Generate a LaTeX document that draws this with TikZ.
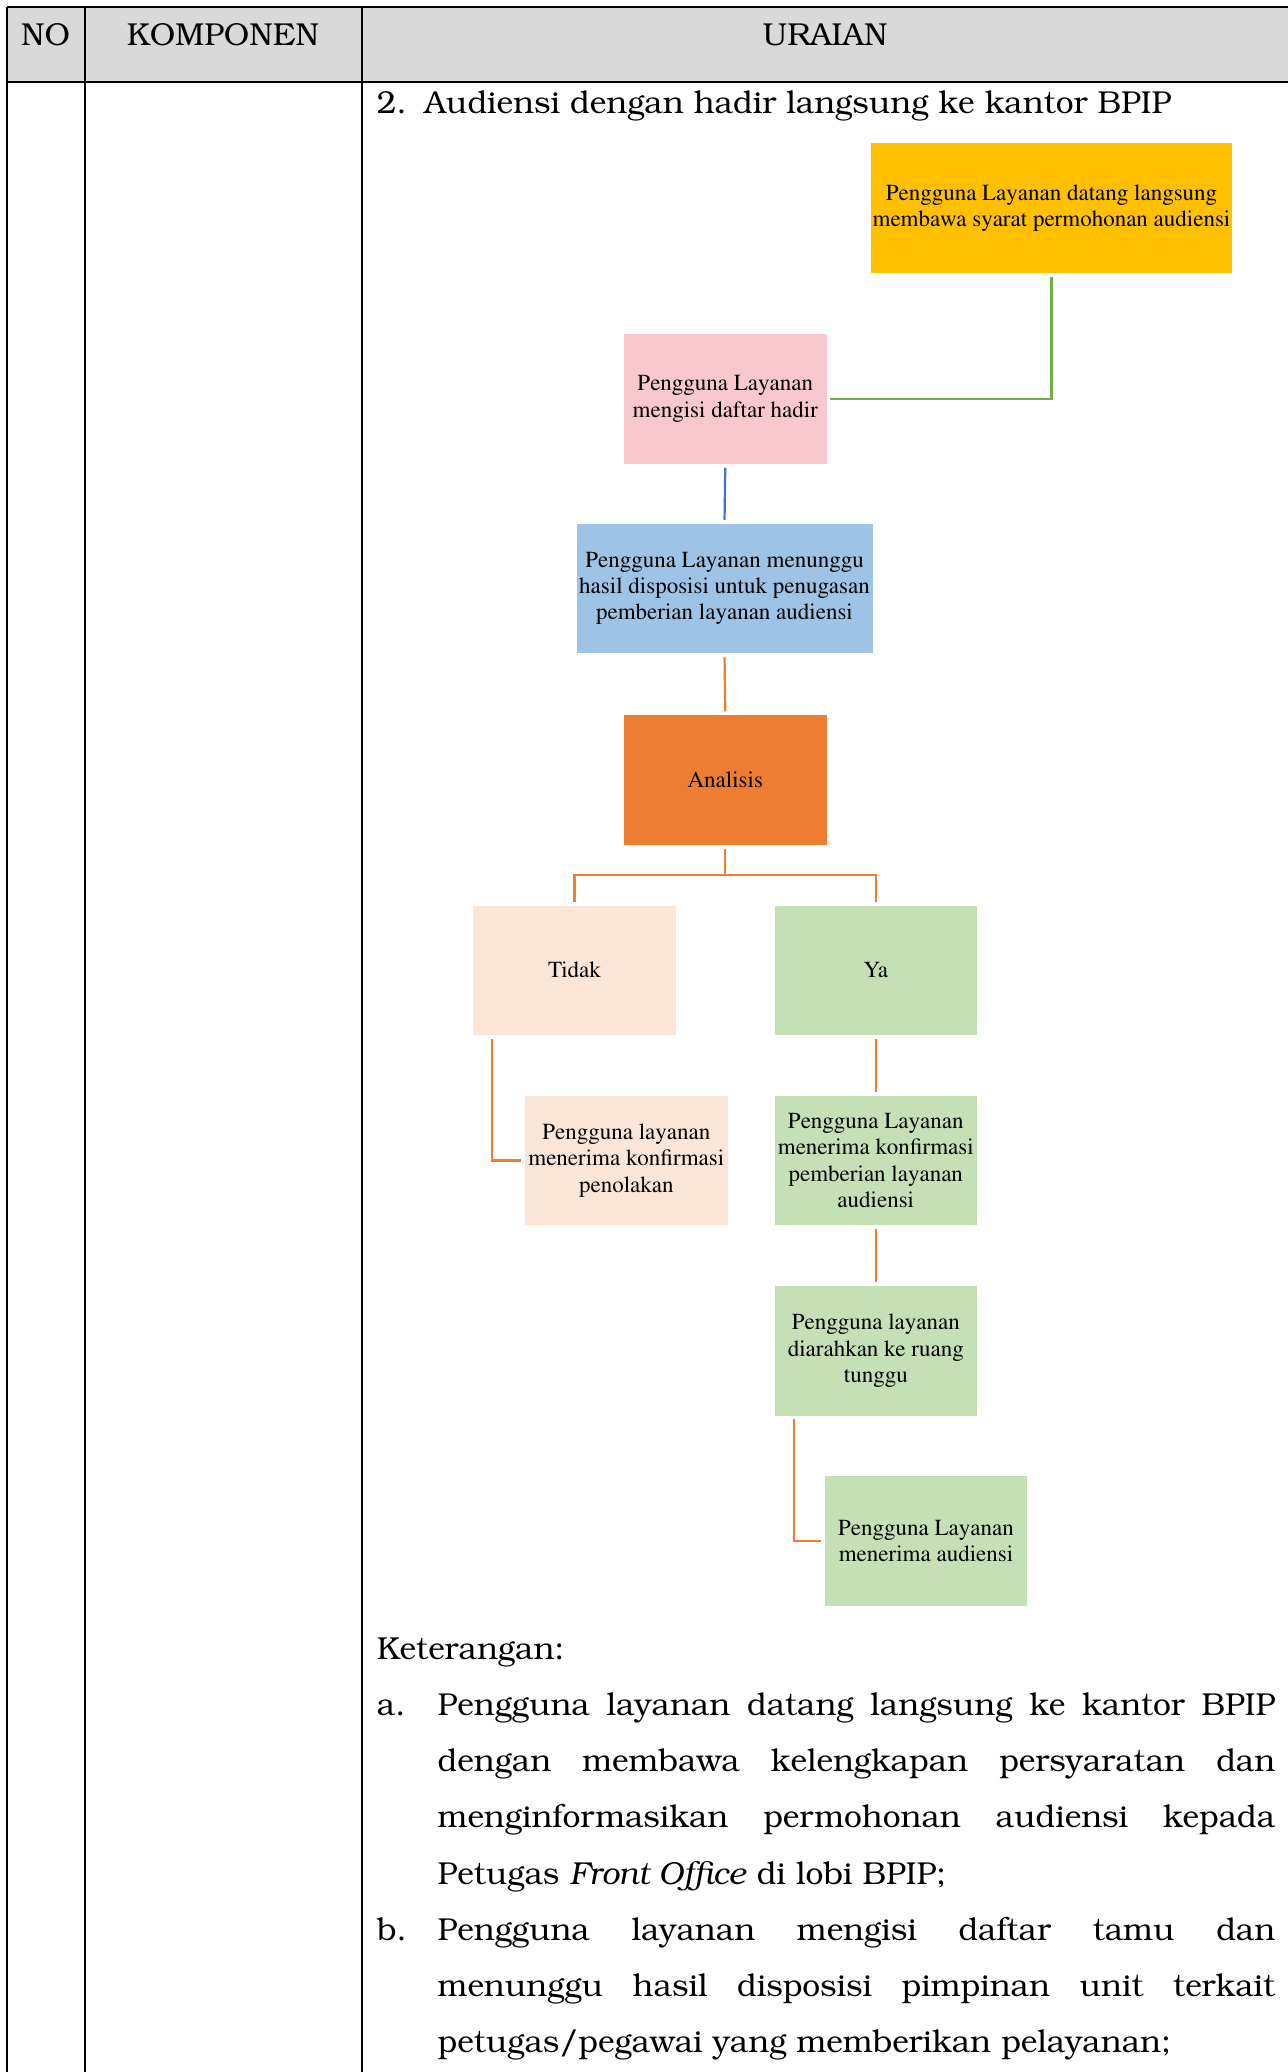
\documentclass[tikz,border=0pt]{standalone}
\usepackage[T1]{fontenc}
\usepackage{bookman}
\usetikzlibrary{calc}

\definecolor{cYellow}{HTML}{FFC000}
\definecolor{cPink}{HTML}{F9C8CE}
\definecolor{cBlue}{HTML}{9DC3E6}
\definecolor{cOrange}{HTML}{ED7D31}
\definecolor{cPeach}{HTML}{FBE5D6}
\definecolor{cGreen}{HTML}{C5E0B4}
\definecolor{lnGreen}{HTML}{70AD47}
\definecolor{lnBlue}{HTML}{4472C4}
\definecolor{lnOrange}{HTML}{ED7D31}
\definecolor{hdrGray}{HTML}{D9D9D9}

\newcommand{\boxtxt}{\fontfamily{ptm}\selectfont\fontsize{11.5}{13.2}\selectfont}
\newcommand{\bodytxt}{\fontsize{15.85}{28}\selectfont}

\tikzset{
  flowbox/.style={rectangle, draw=white, line width=0.4pt, inner sep=0pt,
    minimum width=101.75pt, minimum height=65.35pt, align=center,
    font=\boxtxt, text=black},
  widebox/.style={flowbox, minimum width=#1},
  conn/.style={line width=1.1pt, shorten <=1.5pt, shorten >=1.5pt},
  tblline/.style={line width=1pt, black},
  bodyline/.style={anchor=base west, inner sep=0pt, font=\bodytxt},
  hdr/.style={anchor=base, inner sep=0pt, font=\bodytxt}
}

\begin{document}
\begin{tikzpicture}[x=0.5pt, y=-0.5pt]
\useasboundingbox (0,0) rectangle (1288,2072);
\clip (0,0) rectangle (1288,2072);

% table frame and header row
\fill[hdrGray] (6.6,6.6) rectangle (1300,82);
\draw[tblline] (6.6,6.6) -- (1300,6.6);
\draw[tblline] (6.6,82) -- (1300,82);
\draw[tblline] (6.6,6.6) -- (6.6,2080);
\draw[tblline] (84.5,6.6) -- (84.5,2080);
\draw[tblline] (362,6.6) -- (362,2080);

\node[hdr] (hNo) at (45.5,46) {NO};
\node[hdr] (hKomp) at (223,46) {KOMPONEN};
\node[hdr] (hUraian) at (825,46) {URAIAN};

% section title
\node[bodyline] (secnum) at (376.5,113.5) {2.};
\node[bodyline] (sectitle) at (424,113.5) {Audiensi dengan hadir langsung ke kantor BPIP};

% flow boxes
\node[widebox=181pt, fill=cYellow] (datang) at (1051.5,208)
  {Pengguna Layanan datang langsung\\membawa syarat permohonan audiensi};
\node[flowbox, fill=cPink] (hadir) at (725.3,399)
  {Pengguna Layanan\\mengisi daftar hadir};
\node[widebox=148.5pt, fill=cBlue] (tunggu) at (724.5,588.5)
  {Pengguna Layanan menunggu\\hasil disposisi untuk penugasan\\pemberian layanan audiensi};
\node[flowbox, fill=cOrange] (analisis) at (725.3,780) {Analisis};
\node[flowbox, fill=cPeach] (tidak) at (574.5,970.3) {Tidak};
\node[flowbox, fill=cGreen] (ya) at (875.8,970.3) {Ya};
\node[flowbox, fill=cPeach] (tolak) at (626.3,1160.5)
  {Pengguna layanan\\menerima konfirmasi\\penolakan};
\node[flowbox, fill=cGreen] (konfirm) at (875.8,1160.5)
  {Pengguna Layanan\\menerima konfirmasi\\pemberian layanan\\audiensi};
\node[flowbox, fill=cGreen] (ruang) at (875.8,1350.7)
  {Pengguna layanan\\diarahkan ke ruang\\tunggu};
\node[flowbox, fill=cGreen] (terima) at (926,1541)
  {Pengguna Layanan\\menerima audiensi};

% connectors
\draw[conn, lnGreen] (datang.south) |- (hadir.east);
\draw[conn, lnBlue] (hadir.south) -- (tunggu.north);
\draw[conn, lnOrange] (tunggu.south) -- (analisis.north);
\coordinate (split) at ($(analisis.south)+(0,29)$);
\draw[conn, lnOrange, shorten >=0pt] (analisis.south) -- (split);
\draw[conn, lnOrange, shorten <=0pt] (split) -| (tidak.north);
\draw[conn, lnOrange, shorten <=0pt] (split) -| (ya.north);
\draw[conn, lnOrange] ([xshift=9.85pt]tidak.south west) |- (tolak.west);
\draw[conn, lnOrange] (ya.south) -- (konfirm.north);
\draw[conn, lnOrange] (konfirm.south) -- (ruang.north);
\draw[conn, lnOrange] ([xshift=10pt]ruang.south west) |- (terima.west);

% explanatory notes
\node[bodyline] (ket) at (376.5,1659.5) {Keterangan:};
\node[bodyline] (ia) at (376.5,1715.5) {a.};
\node[bodyline] (a1) at (437.3,1715.5) {\makebox[418.8pt][s]{Pengguna layanan datang langsung ke kantor BPIP}};
\node[bodyline] (a2) at (437.3,1771.7) {\makebox[418.8pt][s]{dengan membawa kelengkapan persyaratan dan}};
\node[bodyline] (a3) at (437.3,1827.9) {\makebox[418.8pt][s]{menginformasikan permohonan audiensi kepada}};
\node[bodyline] (a4) at (437.3,1884.1) {Petugas \textit{Front Office} di lobi BPIP;};
\node[bodyline] (ib) at (376.5,1940.3) {b.};
\node[bodyline] (b1) at (437.3,1940.3) {\makebox[418.8pt][s]{Pengguna layanan mengisi daftar tamu dan}};
\node[bodyline] (b2) at (437.3,1996.5) {\makebox[418.8pt][s]{menunggu hasil disposisi pimpinan unit terkait}};
\node[bodyline] (b3) at (437.3,2052.7) {petugas/pegawai yang memberikan pelayanan;};
\end{tikzpicture}
\end{document}
